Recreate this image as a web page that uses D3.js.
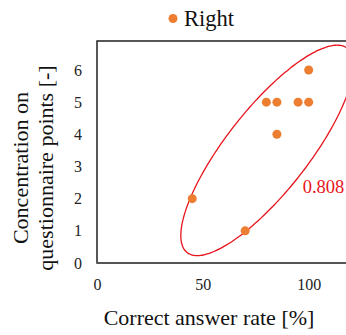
<!DOCTYPE html>
<html>
<head>
<meta charset="utf-8">
<script src="https://cdn.jsdelivr.net/npm/d3@7"></script>
<style>
  body { margin: 0; background: #fff; }
  svg { display: block; }
  text { font-family: "Liberation Serif", "Times New Roman", serif; }
</style>
</head>
<body>
<div id="wrapper"></div>
<script>
// data
const rateValues = [45, 70, 80, 85, 85, 95, 100, 100]
const concentrationValues = [2, 1, 5, 5, 4, 5, 5, 6]
const seriesName = "Right"
const xTicks = [0, 50, 100]
const yTicks = [0, 1, 2, 3, 4, 5, 6]
// spread ellipse (data units): center, std devs, correlation
const ellipseCenter = [80.4, 3.5]
const ellipseSpread = [40.8, 3.27]
const ellipseRho = 0.81
const corrLabel = "0.808"

const serif = "Liberation Serif, Times New Roman, serif"

function drawChart() {
    const dataset = rateValues.map((d, i) => ({ rate: d, conc: concentrationValues[i] }))
    const xAccessor = d => d.rate
    const yAccessor = d => d.conc

    // dimensions
    let dimensions = {
        width: 346,
        height: 335,
        margin: { top: 41, left: 97, bottom: 72 },
    }
    dimensions.boundedWidth = 254
    dimensions.boundedHeight = dimensions.height - dimensions.margin.top - dimensions.margin.bottom

    const wrapper = d3.select("#wrapper")
        .append("svg")
        .attr("width", dimensions.width)
        .attr("height", dimensions.height)

    const bounds = wrapper.append("g")
        .attr("transform", `translate(${dimensions.margin.left},${dimensions.margin.top})`)

    // scales
    const xScale = d3.scaleLinear()
        .domain([0, 120])
        .range([0, dimensions.boundedWidth])

    const yScale = d3.scaleLinear()
        .domain([0, 6.9])
        .range([dimensions.boundedHeight, 0])

    const orange = "#ED7D31"
    const red = "#E8141C"

    // frame
    bounds.append("rect")
        .attr("width", dimensions.boundedWidth)
        .attr("height", dimensions.boundedHeight)
        .attr("fill", "none")
        .attr("stroke", "#111")
        .attr("stroke-width", 1.4)

    // ellipse
    const tSteps = d3.range(0, 361, 2).map(a => a * Math.PI / 180)
    const ellipsePts = tSteps.map(t => [
        ellipseCenter[0] + ellipseSpread[0] * Math.cos(t),
        ellipseCenter[1] + ellipseSpread[1] * (ellipseRho * Math.cos(t) + Math.sqrt(1 - ellipseRho * ellipseRho) * Math.sin(t))
    ])
    const lineGen = d3.line()
        .x(p => xScale(p[0]))
        .y(p => yScale(p[1]))
        .curve(d3.curveCardinalClosed)
    bounds.append("path")
        .attr("d", lineGen(ellipsePts.slice(0, -1)))
        .attr("fill", "none")
        .attr("stroke", red)
        .attr("stroke-width", 1.3)

    // points
    bounds.selectAll("circle.dot")
        .data(dataset)
        .join("circle")
        .attr("class", "dot")
        .attr("cx", d => xScale(xAccessor(d)))
        .attr("cy", d => yScale(yAccessor(d)))
        .attr("r", 4.5)
        .attr("fill", orange)

    // correlation label
    bounds.append("text")
        .attr("x", xScale(97.2))
        .attr("y", yScale(2.17))
        .attr("fill", red)
        .attr("font-family", serif)
        .attr("font-size", 18.5)
        .text(corrLabel)

    // axes
    const xAxisGenerator = d3.axisBottom(xScale)
        .tickValues(xTicks)
        .tickFormat(d3.format("d"))
        .tickSize(0)
        .tickPadding(15.5)
    const xAxis = bounds.append("g")
        .attr("transform", `translate(0,${dimensions.boundedHeight})`)
        .call(xAxisGenerator)
        .attr("font-family", serif)
        .attr("font-size", 16)
    xAxis.select(".domain").remove()
    xAxis.selectAll("text")
        .attr("font-family", serif)
        .attr("fill", "#222")
    xAxis.append("line")
        .attr("x1", 0)
        .attr("x2", dimensions.boundedWidth)
        .attr("stroke", "#555")
        .attr("stroke-width", 2)

    const yAxisGenerator = d3.axisLeft(yScale)
        .tickValues(yTicks)
        .tickFormat(d3.format("d"))
        .tickSize(0)
        .tickPadding(15)
    const yAxis = bounds.append("g")
        .call(yAxisGenerator)
        .attr("font-family", serif)
        .attr("font-size", 16)
    yAxis.select(".domain").remove()
    yAxis.selectAll("text")
        .attr("font-family", serif)
        .attr("fill", "#222")

    // axis titles
    wrapper.append("text")
        .attr("x", 209)
        .attr("y", 325)
        .attr("text-anchor", "middle")
        .attr("font-family", serif)
        .attr("font-size", 22)
        .attr("fill", "#111")
        .text("Correct answer rate [%]")

    const yTitle = wrapper.append("text")
        .attr("transform", "translate(28,168) rotate(-90)")
        .attr("text-anchor", "middle")
        .attr("font-family", serif)
        .attr("font-size", 22)
        .attr("fill", "#111")
    yTitle.append("tspan").attr("x", 0).attr("y", 0).text("Concentration on")
    yTitle.append("tspan").attr("x", 0).attr("y", 25).text("questionnaire points [-]")

    // legend
    const legend = wrapper.append("g")
    legend.append("circle")
        .attr("cx", 173)
        .attr("cy", 18.5)
        .attr("r", 4.5)
        .attr("fill", orange)
    legend.append("text")
        .attr("x", 184)
        .attr("y", 26)
        .attr("font-family", serif)
        .attr("font-size", 22.5)
        .attr("fill", "#111")
        .text(seriesName)
}
drawChart()
</script>
</body>
</html>
